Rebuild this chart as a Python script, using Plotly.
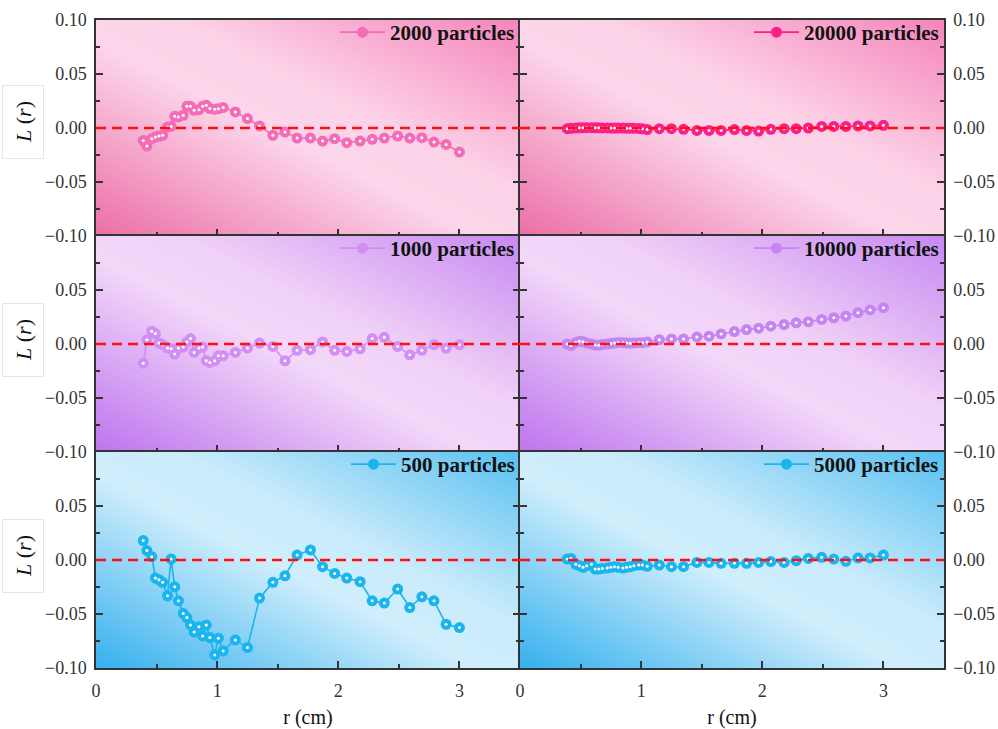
import base64
import plotly.graph_objects as go
from plotly.subplots import make_subplots

# radial distance r (cm) shared by all particle counts
R = [0.39, 0.42, 0.46, 0.49, 0.52, 0.55, 0.59, 0.62, 0.65, 0.68,
     0.72, 0.75, 0.78, 0.81, 0.85, 0.88, 0.91, 0.94, 0.98, 1.01,
     1.05, 1.15, 1.25, 1.35, 1.46, 1.56, 1.66, 1.77, 1.87, 1.97,
     2.07, 2.18, 2.28, 2.38, 2.49, 2.59, 2.69, 2.79, 2.89, 3.00]

L_2000 = [-0.0115, -0.0167, -0.0099, -0.0084, -0.0074, -0.0068, 0.0009, 0.0015, 0.0108, 0.0102,
          0.0118, 0.0201, 0.0201, 0.0164, 0.0170, 0.0201, 0.0211, 0.0180, 0.0173, 0.0178,
          0.0189, 0.0149, 0.0087, 0.0019, -0.0068, -0.0037, -0.0093, -0.0093, -0.0121, -0.0099,
          -0.0136, -0.0121, -0.0105, -0.0093, -0.0074, -0.0093, -0.0090, -0.0130, -0.0152, -0.0223]

L_1000 = [-0.0178, 0.0040, 0.0118, 0.0097, 0.0009, -0.0006, -0.0037, -0.0044, -0.0093, -0.0037,
          -0.0028, 0.0019, 0.0050, -0.0078, -0.0037, -0.0028, -0.0156, -0.0171, -0.0156, -0.0109,
          -0.0109, -0.0078, -0.0037, 0.0009, -0.0022, -0.0156, -0.0059, -0.0053, 0.0019, -0.0059,
          -0.0069, -0.0044, 0.0050, 0.0062, -0.0022, -0.0100, -0.0059, -0.0006, -0.0037, -0.0006]

L_500 = [0.0180, 0.0087, 0.0031, -0.0167, -0.0183, -0.0207, -0.0331, 0.0009, -0.0248, -0.0378,
         -0.0495, -0.0533, -0.0601, -0.0666, -0.0619, -0.0703, -0.0601, -0.0718, -0.0879, -0.0724,
         -0.0842, -0.0740, -0.0811, -0.0353, -0.0207, -0.0146, 0.0046, 0.0093, -0.0062, -0.0124,
         -0.0167, -0.0201, -0.0378, -0.0399, -0.0269, -0.0440, -0.0341, -0.0378, -0.0595, -0.0626]

L_20000 = [-0.0006, -0.0003, 0.0000, 0.0002, 0.0002, 0.0003, 0.0003, 0.0002, 0.0002, 0.0001,
           0.0001, 0.0000, 0.0000, -0.0001, -0.0001, -0.0002, -0.0002, -0.0003, -0.0004, -0.0008,
           -0.0015, -0.0006, -0.0006, -0.0012, -0.0022, -0.0022, -0.0022, -0.0015, -0.0022, -0.0028,
           -0.0012, -0.0006, -0.0006, 0.0000, 0.0015, 0.0015, 0.0015, 0.0019, 0.0019, 0.0025]

L_10000 = [0.0000, -0.0015, 0.0015, 0.0025, 0.0020, 0.0010, 0.0000, -0.0010, -0.0012, -0.0005,
           0.0000, 0.0005, 0.0010, 0.0015, 0.0012, 0.0010, 0.0008, 0.0010, 0.0012, 0.0012,
           0.0019, 0.0040, 0.0047, 0.0047, 0.0065, 0.0072, 0.0093, 0.0115, 0.0134, 0.0146,
           0.0165, 0.0180, 0.0196, 0.0206, 0.0227, 0.0243, 0.0259, 0.0290, 0.0315, 0.0336]

L_5000 = [0.0009, 0.0015, -0.0040, -0.0053, -0.0068, -0.0053, -0.0040, -0.0084, -0.0084, -0.0078,
          -0.0074, -0.0068, -0.0062, -0.0068, -0.0074, -0.0068, -0.0062, -0.0053, -0.0046, -0.0046,
          -0.0059, -0.0047, -0.0062, -0.0062, -0.0022, -0.0022, -0.0031, -0.0031, -0.0031, -0.0022,
          -0.0015, -0.0022, -0.0006, 0.0015, 0.0025, 0.0009, -0.0012, 0.0019, 0.0019, 0.0046]

SERIES_NAMES = ["2000 particles", "20000 particles",
                "1000 particles", "10000 particles",
                "500 particles", "5000 particles"]
SERIES_VALUES = [L_2000, L_20000, L_1000, L_10000, L_500, L_5000]
X_TICKS = [0, 1, 2, 3]

SERIF = "Liberation Serif"

# background gradient stops per row (lower-left -> upper-right)
PINK_BG = [("0", "#ec6ea6"), ("0.45", "#fcd6ea"), ("0.6", "#fcd2e7"), ("1", "#f585ba")]
PURPLE_BG = [("0", "#bd74ee"), ("0.45", "#f3d8f9"), ("0.6", "#f0d1f7"), ("1", "#c689f1")]
BLUE_BG = [("0", "#35b0ee"), ("0.45", "#d0eefc"), ("0.6", "#caebfb"), ("1", "#58c0f1")]

# (row, col, marker colour, background)
PANELS = [
    (1, 1, "#f46cb6", PINK_BG),
    (1, 2, "#fb1f86", PINK_BG),
    (2, 1, "#d28ef2", PURPLE_BG),
    (2, 2, "#c585f0", PURPLE_BG),
    (3, 1, "#1ab4ee", BLUE_BG),
    (3, 2, "#1ab4ee", BLUE_BG),
]


def gradient_uri(stops):
    stop_xml = "".join(f"<stop offset='{o}' stop-color='{c}'/>" for o, c in stops)
    svg = ("<svg xmlns='http://www.w3.org/2000/svg' width='424' height='216' "
           "viewBox='0 0 424 216' preserveAspectRatio='none'>"
           "<defs><linearGradient id='g' x1='0' y1='1' x2='1' y2='0'>"
           f"{stop_xml}</linearGradient></defs>"
           "<rect width='424' height='216' fill='url(#g)'/></svg>")
    return "data:image/svg+xml;base64," + base64.b64encode(svg.encode()).decode()


fig = make_subplots(rows=3, cols=2, horizontal_spacing=0, vertical_spacing=0)

images = []
legends = {}
for i, ((row, col, color, bg), name, vals) in enumerate(zip(PANELS, SERIES_NAMES, SERIES_VALUES)):
    leg = "legend" if i == 0 else f"legend{i + 1}"
    fig.add_trace(go.Scatter(
        x=R, y=vals, mode="lines+markers", name=name, legend=leg,
        line=dict(color=color, width=1.6),
        marker=dict(size=11, color=color, line=dict(width=0)),
    ), row=row, col=col)
    # specular highlight on each sphere-like marker
    fig.add_trace(go.Scatter(
        x=R, y=vals, mode="markers", showlegend=False, hoverinfo="skip",
        marker=dict(size=3, color="white"),
    ), row=row, col=col)

    fig.add_hline(y=0, row=row, col=col,
                  line=dict(color="#ff1010", width=2.5, dash="10px,6px"))

    axis_idx = (row - 1) * 2 + col
    xref = "x" if axis_idx == 1 else f"x{axis_idx}"
    yref = "y" if axis_idx == 1 else f"y{axis_idx}"
    images.append(dict(source=gradient_uri(bg), xref=f"{xref} domain", yref=f"{yref} domain",
                       x=0, y=1, sizex=1, sizey=1, sizing="stretch",
                       xanchor="left", yanchor="top", layer="below"))

    legends[leg] = dict(
        x=0.5 if col == 1 else 1.0, xanchor="right",
        y=1 - (row - 1) / 3 + 8 / 648, yanchor="top",
        bgcolor="rgba(0,0,0,0)", borderwidth=0,
        font=dict(family=SERIF, size=21, color="#111", weight="bold"),
        itemwidth=45, tracegroupgap=0,
    )

axis_common = dict(showline=True, linecolor="#333", linewidth=1.5, ticks="inside",
                   tickcolor="#333", tickwidth=1.5, ticklen=7, showgrid=False, zeroline=False,
                   automargin=False,
                   tickfont=dict(family=SERIF, size=18, color="#333"))

for row in (1, 2, 3):
    for col in (1, 2):
        fig.update_xaxes(
            range=[0, 3.5], tickmode="array", tickvals=X_TICKS,
            showticklabels=(row == 3), mirror=True, ticklabelstandoff=6,
            minor=dict(ticks="inside", dtick=0.5, ticklen=4, tickcolor="#333", tickwidth=1.5),
            title=dict(text="r (cm)", font=dict(family=SERIF, size=20, color="#111"), standoff=14)
            if row == 3 else None,
            row=row, col=col, **axis_common)
        yvals = [-0.10, -0.05, 0.0, 0.05, 0.10] if row == 1 else [-0.10, -0.05, 0.0, 0.05]
        fig.update_yaxes(
            range=[-0.1, 0.1], tickmode="array", tickvals=yvals,
            ticktext=[f"{v:.2f}".replace("-", "\u2212") for v in yvals],
            side="left" if col == 1 else "right", mirror="ticks", ticklabelstandoff=4,
            minor=dict(ticks="inside", tickvals=[-0.075, -0.025, 0.025, 0.075],
                       ticklen=4, tickcolor="#333", tickwidth=1.5),
            row=row, col=col, **axis_common)

annotations = []
for ypix in (122, 340, 556):
    annotations.append(dict(
        text="<i>L</i> (<i>r</i>)", xref="paper", yref="paper",
        x=(23 - 96) / 848, y=(668 - ypix) / 648, xanchor="center", yanchor="middle",
        textangle=-90, showarrow=False, width=70, height=38,
        font=dict(family=SERIF, size=22, color="#111"),
        bgcolor="white", bordercolor="#e6e6e6", borderwidth=1,
    ))

fig.update_layout(
    width=998, height=729,
    margin=dict(l=96, r=54, t=20, b=61, autoexpand=False),
    font=dict(family=SERIF),
    paper_bgcolor="white", plot_bgcolor="rgba(0,0,0,0)",
    images=images, annotations=annotations,
    **legends,
)

fig.write_html("out.html")
